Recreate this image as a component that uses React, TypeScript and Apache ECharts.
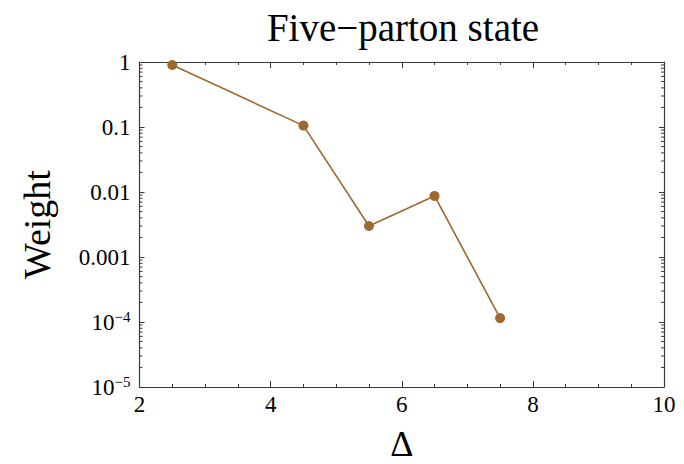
import React, { useEffect, useRef } from "react";
import * as echarts from "echarts";

const deltas = [2.5, 4.5, 5.5, 6.5, 7.5];
const weights = [0.9, 0.105, 0.003, 0.0087, 0.000115];
const yMinorValues: number[] = [];
for (let e = -5; e < 0; e++) {
  for (let k = 2; k <= 9; k++) yMinorValues.push(k * Math.pow(10, e));
}
const titleText = "Five\u2212parton state";
const xName = "\u0394";
const yName = "Weight";

const FONT = "Liberation Serif";
const FRAME = "#3a3a3a";
const LINE = "#a0672f";

function yLabel(v: number): string {
  const e = Math.round(Math.log10(v));
  if (e >= -3) {
    if (e === 0) return "1";
    return (Math.pow(10, e)).toFixed(-e);
  }
  return "{b|10}{s|\u2212" + -e + "}";
}

export default function App() {
  const ref = useRef<HTMLDivElement>(null);
  useEffect(() => {
    if (!ref.current) return;
    const chart = echarts.init(ref.current, undefined, { renderer: "svg" });
    const axisLine = { show: true, lineStyle: { color: FRAME, width: 1.2 } };
    const xCommon = {
      type: "value" as const,
      min: 2,
      max: 10,
      interval: 2,
      axisLine,
      axisTick: { show: true, inside: true, length: 6, lineStyle: { color: FRAME } },
      minorTick: { show: true, splitNumber: 4, length: 3, lineStyle: { color: FRAME } },
      splitLine: { show: false },
      minorSplitLine: { show: false },
    };
    const yCommon = {
      type: "log" as const,
      logBase: 10,
      min: 1e-5,
      max: 1,
      axisLine,
      axisTick: { show: true, inside: true, length: 5, lineStyle: { color: FRAME } },
      splitLine: { show: false },
    };
    chart.setOption({
      animation: false,
      title: {
        text: titleText,
        left: 398,
        top: 3,
        textAlign: "center",
        textStyle: { fontFamily: FONT, fontSize: 39, fontWeight: "normal", color: "#000" },
      },
      grid: { left: 139.5, top: 62, right: 20, bottom: 77, containLabel: false, outerBoundsMode: "none" },
      xAxis: [
        {
          ...xCommon,
          position: "bottom",
          name: xName,
          nameLocation: "middle",
          nameGap: 42,
          nameTextStyle: { fontFamily: FONT, fontSize: 36, lineHeight: 30, color: "#000" },
          axisLabel: { fontFamily: FONT, fontSize: 23, color: "#000", margin: 6 },
        },
        { ...xCommon, position: "top", axisLabel: { show: false } },
      ],
      yAxis: [
        {
          ...yCommon,
          position: "left",
          name: yName,
          nameLocation: "middle",
          nameGap: 84,
          nameTextStyle: { fontFamily: FONT, fontSize: 38, color: "#000" },
          axisLabel: {
            fontFamily: FONT,
            fontSize: 23,
            color: "#000",
            margin: 9,
            formatter: yLabel,
            rich: {
              b: { fontFamily: FONT, fontSize: 23, color: "#000" },
              s: { fontFamily: FONT, fontSize: 15, color: "#000", verticalAlign: "top", padding: [0, 0, 10, 0] },
            },
          },
        },
        { ...yCommon, position: "right", axisLabel: { show: false } },
      ],
      series: [
        {
          type: "line",
          data: deltas.map((d, i) => [d, weights[i]]),
          xAxisIndex: 0,
          yAxisIndex: 0,
          symbol: "circle",
          symbolSize: 10,
          itemStyle: { color: LINE },
          lineStyle: { color: LINE, width: 1.6 },
          clip: false,
          z: 5,
        },
        {
          type: "custom",
          xAxisIndex: 0,
          yAxisIndex: 0,
          silent: true,
          clip: false,
          data: yMinorValues.map((v) => [2, v]),
          renderItem: (params: any, api: any) => {
            const v = api.value(1);
            const l = api.coord([2, v]);
            const r = api.coord([10, v]);
            const st = { stroke: FRAME, lineWidth: 1 };
            return {
              type: "group",
              children: [
                { type: "line", shape: { x1: l[0], y1: l[1], x2: l[0] + 3, y2: l[1] }, style: st },
                { type: "line", shape: { x1: r[0], y1: r[1], x2: r[0] - 3, y2: r[1] }, style: st },
              ],
            };
          },
        },
      ],
    });
    return () => chart.dispose();
  }, []);
  return <div ref={ref} style={{ width: 684, height: 464, position: "absolute", left: 0, top: 0 }} />;
}
